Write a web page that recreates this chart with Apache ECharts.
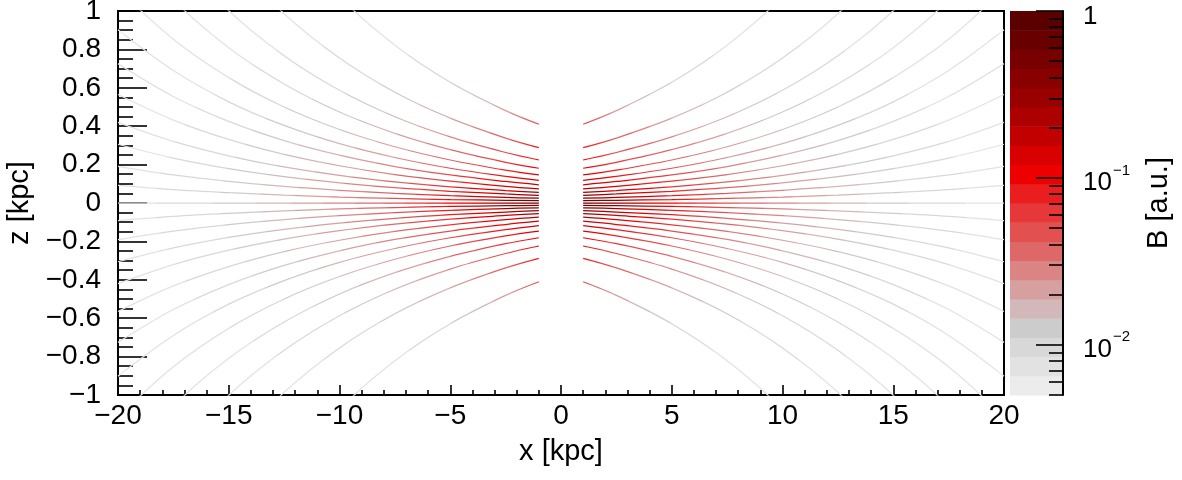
<!DOCTYPE html>
<html>
<head>
<meta charset="utf-8">
<script src="https://cdn.jsdelivr.net/npm/echarts@6/dist/echarts.min.js"></script>
<style>
  html, body { margin: 0; padding: 0; background: #fff; }
  #main { width: 1182px; height: 480px; }
</style>
</head>
<body>
<div id="main"></div>
<script>
// sample positions along each field line, |x| in kpc
var lineX = [1, 2.5, 5, 7.5, 10, 12.5, 15, 17.5, 20];
// z (kpc) of each line in the upper right quadrant, outermost first, last one is the midplane
var lineZ = [
  [0.410, 0.481, 0.629, 0.822, 1.074, 1.403, 1.833, 2.396, 3.132],
  [0.288, 0.338, 0.442, 0.577, 0.755, 0.986, 1.287, 1.683, 2.200],
  [0.224, 0.263, 0.344, 0.449, 0.587, 0.767, 1.001, 1.309, 1.711],
  [0.181, 0.212, 0.278, 0.363, 0.474, 0.620, 0.809, 1.058, 1.383],
  [0.146, 0.171, 0.224, 0.293, 0.383, 0.500, 0.653, 0.853, 1.115],
  [0.118, 0.139, 0.181, 0.237, 0.309, 0.404, 0.527, 0.690, 0.902],
  [0.095, 0.112, 0.146, 0.190, 0.249, 0.325, 0.425, 0.555, 0.726],
  [0.074, 0.087, 0.114, 0.148, 0.194, 0.253, 0.331, 0.432, 0.565],
  [0.055, 0.065, 0.084, 0.110, 0.144, 0.188, 0.246, 0.321, 0.420],
  [0.040, 0.047, 0.061, 0.080, 0.105, 0.137, 0.179, 0.234, 0.306],
  [0.025, 0.029, 0.038, 0.050, 0.066, 0.086, 0.112, 0.146, 0.191],
  [0.012, 0.014, 0.018, 0.024, 0.031, 0.041, 0.054, 0.070, 0.092],
  [0, 0, 0, 0, 0, 0, 0, 0, 0]
];
var colorX = [1, 2.5, 5, 7.5, 10, 15, 20];
var lineLogB = [
  [-1.30, -1.65, -1.95, -2.10, -2.20, -2.28, -2.30],
  [-1.08, -1.40, -1.72, -1.92, -2.05, -2.20, -2.28],
  [-0.98, -1.28, -1.60, -1.82, -1.97, -2.15, -2.26],
  [-0.92, -1.20, -1.50, -1.74, -1.90, -2.12, -2.24],
  [-0.86, -1.12, -1.42, -1.66, -1.84, -2.08, -2.22],
  [-0.80, -1.04, -1.35, -1.60, -1.78, -2.05, -2.20],
  [-0.72, -0.96, -1.28, -1.54, -1.73, -2.02, -2.19],
  [-0.62, -0.88, -1.22, -1.49, -1.69, -2.00, -2.18],
  [-0.50, -0.78, -1.16, -1.45, -1.66, -1.98, -2.17],
  [-0.38, -0.68, -1.10, -1.41, -1.63, -1.96, -2.16],
  [-0.26, -0.58, -1.05, -1.38, -1.60, -1.95, -2.15],
  [-0.16, -0.50, -1.01, -1.35, -1.58, -1.94, -2.15],
  [-0.10, -0.46, -0.98, -1.33, -1.56, -1.93, -2.15]
];
// colour bar bands, bottom to top
var palette = ['#ececec', '#e2e2e2', '#d8d8d8', '#cccccc', '#d2b8b8', '#d6a0a0', '#da8484', '#de6868',
  '#e25050', '#e63838', '#ea1e1e', '#ee0000', '#d80000', '#c20000', '#ad0000', '#990000',
  '#880000', '#780000', '#680000', '#5a0000'];
var bMin = 0.005, bMax = 1;
var cbarMajor = [0.01, 0.1, 1];
var cbarLabels = ['{b|10}{s|\u22122}', '{b|10}{s|\u22121}', '{one|1}'];
var cbarMinor = [0.005, 0.006, 0.007, 0.008, 0.009, 0.02, 0.03, 0.04, 0.05, 0.06, 0.07, 0.08, 0.09,
  0.2, 0.3, 0.4, 0.5, 0.6, 0.7, 0.8, 0.9];

var FONT = 'Liberation Sans';
var logMin = Math.log10(bMin), logMax = Math.log10(bMax);
var bandStep = (logMax - logMin) / palette.length;

function bandColor(lb) {
  var i = Math.floor((lb - logMin) / bandStep);
  return palette[Math.max(0, Math.min(palette.length - 1, i))];
}
function logBAt(row, x) {
  for (var k = 0; k < colorX.length - 1; k++) {
    if (x <= colorX[k + 1]) {
      var t = (x - colorX[k]) / (colorX[k + 1] - colorX[k]);
      return row[k] + t * (row[k + 1] - row[k]);
    }
  }
  return row[row.length - 1];
}
// colour along the line; bbox runs from |x|=1 to |x|=20
function lineGradient(row, flip) {
  var x0 = lineX[0], x1 = lineX[lineX.length - 1];
  var stops = [];
  for (var s = 0; s <= 120; s++) {
    var f = s / 120;
    stops.push({ offset: flip ? 1 - f : f, color: bandColor(logBAt(row, x0 + (x1 - x0) * f)) });
  }
  if (flip) stops.reverse();
  return { type: 'linear', x: 0, y: 0, x2: 1, y2: 0, colorStops: stops };
}

var series = [];
lineZ.forEach(function (zs, i) {
  var zSigns = zs[0] === 0 ? [1] : [1, -1];
  [1, -1].forEach(function (sx) {
    zSigns.forEach(function (sz) {
      series.push({
        type: 'line',
        xAxisIndex: 0,
        yAxisIndex: 0,
        data: lineX.map(function (x, k) { return [sx * x, sz * zs[k]]; }),
        symbol: 'none',
        showSymbol: false,
        smooth: 0.35,
        silent: true,
        clip: true,
        z: 2,
        lineStyle: { width: 1.25, color: lineGradient(lineLogB[i], sx < 0) }
      });
    });
  });
});

// colour bar
series.push({
  type: 'custom',
  xAxisIndex: 1,
  yAxisIndex: 1,
  silent: true,
  z: 1,
  data: palette.map(function (c, i) { return [0, logMin + i * bandStep, i]; }),
  renderItem: function (params, api) {
    var lo = api.value(1);
    var p0 = api.coord([0, lo]);
    var p1 = api.coord([1, lo + bandStep]);
    return {
      type: 'rect',
      shape: { x: p0[0], y: p1[1], width: p1[0] - p0[0], height: p0[1] - p1[1] + 0.5 },
      style: { fill: palette[api.value(2)] }
    };
  }
});

function fmtNum(v) {
  var r = Math.round(v * 10) / 10;
  return (r < 0 ? '\u2212' : '') + Math.abs(r);
}

var black = '#000';
var chart = echarts.init(document.getElementById('main'));
chart.setOption({
  animation: false,
  backgroundColor: '#fff',
  grid: [
    { left: 118, right: 178, top: 11, bottom: 85, show: true, borderColor: black, borderWidth: 2,
      backgroundColor: 'transparent', outerBoundsMode: 'none' },
    { left: 1010, width: 53, top: 11, height: 384, outerBoundsMode: 'none' },
    { left: 1010, width: 53, top: 11, height: 384, outerBoundsMode: 'none' }
  ],
  xAxis: [
    {
      gridIndex: 0, type: 'value', min: -20, max: 20, interval: 5,
      name: 'x [kpc]', nameLocation: 'middle', nameGap: 42,
      nameTextStyle: { fontFamily: FONT, fontSize: 29, color: black },
      axisLine: { show: true, onZero: false, lineStyle: { color: black, width: 2 } },
      axisTick: { show: true, inside: true, length: 10, lineStyle: { color: black, width: 1.6 } },
      minorTick: { show: true, splitNumber: 5, length: 5, lineStyle: { color: black, width: 1.6 } },
      axisLabel: { fontFamily: FONT, fontSize: 28, color: black, margin: 7, formatter: fmtNum },
      splitLine: { show: false },
      minorSplitLine: { show: false }
    },
    { gridIndex: 1, type: 'value', min: 0, max: 1, show: false },
    { gridIndex: 2, type: 'value', min: 0, max: 1, show: false }
  ],
  yAxis: [
    {
      gridIndex: 0, type: 'value', min: -1, max: 1, interval: 0.2,
      name: 'z [kpc]', nameLocation: 'middle', nameGap: 78, nameRotate: 90,
      nameTextStyle: { fontFamily: FONT, fontSize: 29, color: black },
      axisLine: { show: true, onZero: false, lineStyle: { color: black, width: 2 } },
      axisTick: { show: true, inside: true, length: 29, lineStyle: { color: black, width: 1.6 } },
      minorTick: { show: true, splitNumber: 4, length: 15, lineStyle: { color: black, width: 1.6 } },
      axisLabel: { fontFamily: FONT, fontSize: 28, color: black, margin: 17, formatter: fmtNum },
      splitLine: { show: false },
      minorSplitLine: { show: false }
    },
    {
      gridIndex: 1, type: 'value', min: logMin, max: logMax, position: 'right', z: 5,
      name: 'B [a.u.]', nameLocation: 'middle', nameGap: 81, nameRotate: 90,
      nameTextStyle: { fontFamily: FONT, fontSize: 29, color: black },
      axisLine: { show: true, onZero: false, lineStyle: { color: black, width: 2 } },
      axisTick: {
        show: true, inside: true, length: 27,
        customValues: cbarMajor.map(Math.log10),
        lineStyle: { color: black, width: 1.6 }
      },
      axisLabel: {
        show: true, margin: 20,
        customValues: cbarMajor.map(Math.log10),
        formatter: function (v) {
          return cbarLabels[Math.round(v) + 2];
        },
        rich: {
          b: { fontFamily: FONT, fontSize: 26, color: black, lineHeight: 30, padding: [10, 0, 0, 0] },
          s: { fontFamily: FONT, fontSize: 15, color: black, verticalAlign: 'top', padding: [0, 0, 0, 1] },
          one: { fontFamily: FONT, fontSize: 26, color: black, padding: [11, 0, 0, 0] }
        }
      },
      splitLine: { show: false }
    },
    {
      gridIndex: 2, type: 'value', min: logMin, max: logMax, position: 'right', z: 5,
      axisLine: { show: false, onZero: false },
      axisTick: {
        show: true, inside: true, length: 14,
        customValues: cbarMinor.map(Math.log10),
        lineStyle: { color: black, width: 1.6 }
      },
      axisLabel: { show: false },
      splitLine: { show: false }
    }
  ],
  series: series
});
</script>
</body>
</html>
